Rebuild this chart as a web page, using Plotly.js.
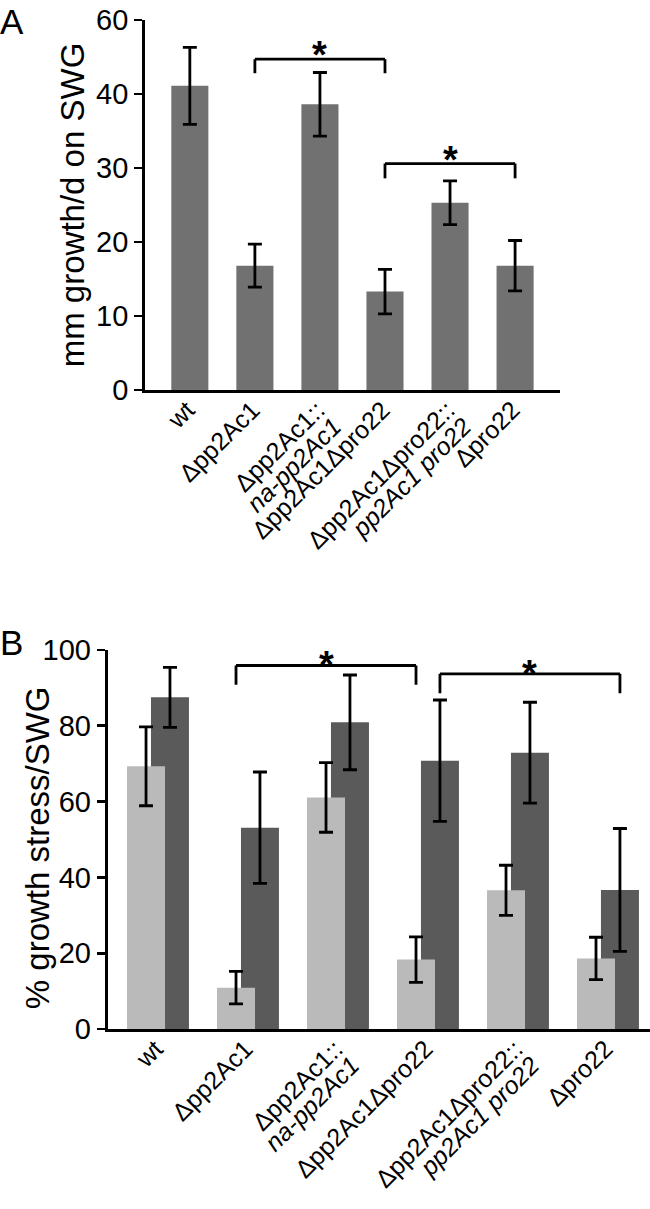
<!DOCTYPE html>
<html>
<head>
<meta charset="utf-8">
<script src="https://cdn.plot.ly/plotly-3.0.1.min.js"></script>
<style>html,body{margin:0;padding:0;background:#fff;}#chart{width:650px;height:1209px;}</style>
</head>
<body>
<div id="chart"></div>
<script>
// ---- data ----
const strains = ['wt', 'Δpp2Ac1', 'Δpp2Ac1::na-pp2Ac1', 'Δpp2Ac1Δpro22',
                 'Δpp2Ac1Δpro22::pp2Ac1 pro22', 'Δpro22'];
// tick label lines as printed under the bars (second lines in italics)
const strainLabelLines = [['wt'], ['Δpp2Ac1'], ['Δpp2Ac1::', '<i>na-pp2Ac1</i>'], ['Δpp2Ac1Δpro22'],
                          ['Δpp2Ac1Δpro22::', '<i>pp2Ac1 pro22</i>'], ['Δpro22']];
// Panel A: mm growth/d on SWG
const growthSWG = [41.1, 16.8, 38.6, 13.3, 25.3, 16.8];
const growthSWGErr = [5.2, 2.9, 4.3, 3.0, 2.95, 3.4];
// y tick values and the labels printed in the original figure (top tick reads "60")
const yTicksA = [0, 10, 20, 30, 40, 50];
const yTickTextA = ['0', '10', '20', '30', '40', '60'];
// Panel B: % growth stress/SWG (two stress conditions)
const stressLight = [69.3, 10.9, 61.1, 18.3, 36.6, 18.6];
const stressLightErr = [10.4, 4.3, 9.2, 6.0, 6.6, 5.6];
const stressDark = [87.5, 53.1, 80.9, 70.8, 72.9, 36.7];
const stressDarkErr = [7.9, 14.7, 12.5, 16.0, 13.3, 16.2];
// significance brackets: [from index, to index, height, leg drop, star height]
const sigA = [[1, 3, 44.7, 1.9, 46.3], [3, 5, 30.6, 2.0, 32.2]];
const sigB = [[1, 3, 95.9, 5.1, 98.1, 'light', 'light'], [3, 5, 93.7, 5.1, 95.8, 'dark', 'dark']];

const FONT = 'Liberation Sans, Arial, Helvetica, sans-serif';
const LABEL_PX = 25;
const tickText = strainLabelLines.map(lines =>
  lines.map(l => '<span style="font-size:' + LABEL_PX + 'px">' + l + '</span>').join('<br>'));

const barW = 0.422;
const lightOff = -0.344, darkOff = -0.078;

const errStyle = (arr) => ({type: 'data', array: arr, visible: true, color: '#000', thickness: 2.8, width: 7});

const traces = [
  {type: 'bar', x: strains, y: growthSWG, xaxis: 'x', yaxis: 'y', width: 0.57,
   marker: {color: '#717171'}, error_y: errStyle(growthSWGErr), showlegend: false},
  {type: 'bar', x: strains, y: stressDark, xaxis: 'x2', yaxis: 'y2', width: barW, offset: darkOff,
   marker: {color: '#5a5a5a'}, error_y: errStyle(stressDarkErr), showlegend: false},
  {type: 'bar', x: strains, y: stressLight, xaxis: 'x2', yaxis: 'y2', width: barW, offset: lightOff,
   marker: {color: '#bababa'}, error_y: errStyle(stressLightErr), showlegend: false}
];

const shapes = [];
const annotations = [];
const lineStyle = {color: '#000', width: 2.8};
function bracket(xr, yr, x0, x1, y, drop, ys) {
  shapes.push({type: 'line', xref: xr, yref: yr, x0: x0, x1: x1, y0: y, y1: y, line: lineStyle});
  shapes.push({type: 'line', xref: xr, yref: yr, x0: x0, x1: x0, y0: y, y1: y - drop, line: lineStyle});
  shapes.push({type: 'line', xref: xr, yref: yr, x0: x1, x1: x1, y0: y, y1: y - drop, line: lineStyle});
  annotations.push({xref: xr, yref: yr, x: (x0 + x1) / 2, y: ys, text: '<b>*</b>', showarrow: false,
    font: {family: FONT, size: 38, color: '#000'}, yanchor: 'middle', yshift: -8});
}
sigA.forEach(s => bracket('x', 'y', s[0], s[1], s[2], s[3], s[4]));
const centerOf = (kind) => (kind === 'light' ? lightOff : darkOff) + barW / 2;
sigB.forEach(s => bracket('x2', 'y2', s[0] + centerOf(s[5]), s[1] + centerOf(s[6]), s[2], s[3], s[4]));

annotations.push({xref: 'paper', yref: 'paper', x: 0, y: 1.0, xanchor: 'left', yanchor: 'top',
  xshift: -2, text: 'A', showarrow: false, font: {family: FONT, size: 35, color: '#000'}});
annotations.push({xref: 'paper', yref: 'paper', x: 0, y: 0.486, xanchor: 'left', yanchor: 'top',
  xshift: -2, text: 'B', showarrow: false, font: {family: FONT, size: 35, color: '#000'}});
// y-axis title of panel B (placed closer to its tick labels, as in the original)
annotations.push({xref: 'paper', yref: 'paper', x: 0.058, y: 0.299, xanchor: 'center', yanchor: 'middle',
  textangle: -90, text: '% growth stress/SWG', showarrow: false,
  font: {family: FONT, size: 33, color: '#000'}});

const xCommon = {type: 'category', showline: true, linewidth: 2.8, linecolor: '#000', ticks: '',
  tickangle: -45, tickfont: {family: FONT, size: 18, color: '#000'}, showgrid: false, zeroline: false,
  tickmode: 'array', tickvals: strains, ticktext: tickText, fixedrange: true};
const yCommon = {showline: true, linewidth: 2.8, linecolor: '#000', ticks: 'outside', ticklen: 8,
  tickwidth: 2.8, tickcolor: '#000', tickfont: {family: FONT, size: 29, color: '#000'},
  showgrid: false, zeroline: false};

const layout = {
  width: 650, height: 1209,
  margin: {l: 0, r: 0, t: 0, b: 0},
  paper_bgcolor: '#fff', plot_bgcolor: '#fff',
  barmode: 'overlay',
  font: {family: FONT, color: '#000'},
  xaxis: Object.assign({}, xCommon, {domain: [0.223, 0.8615], anchor: 'y', range: [-0.69, 5.69]}),
  yaxis: Object.assign({}, yCommon, {domain: [0.6774, 0.9835], anchor: 'x', range: [0, 50],
    tickmode: 'array', tickvals: yTicksA, ticktext: yTickTextA,
    title: {text: 'mm growth/d on SWG', font: {family: FONT, size: 33, color: '#000'}, standoff: 2}}),
  xaxis2: Object.assign({}, xCommon, {domain: [0.1654, 1.0], anchor: 'y2', range: [-0.561, 5.467]}),
  yaxis2: Object.assign({}, yCommon, {domain: [0.1489, 0.4624], anchor: 'x2', range: [0, 100], dtick: 20}),
  shapes: shapes,
  annotations: annotations
};

Plotly.newPlot('chart', traces, layout, {staticPlot: true, displayModeBar: false});
</script>
</body>
</html>
